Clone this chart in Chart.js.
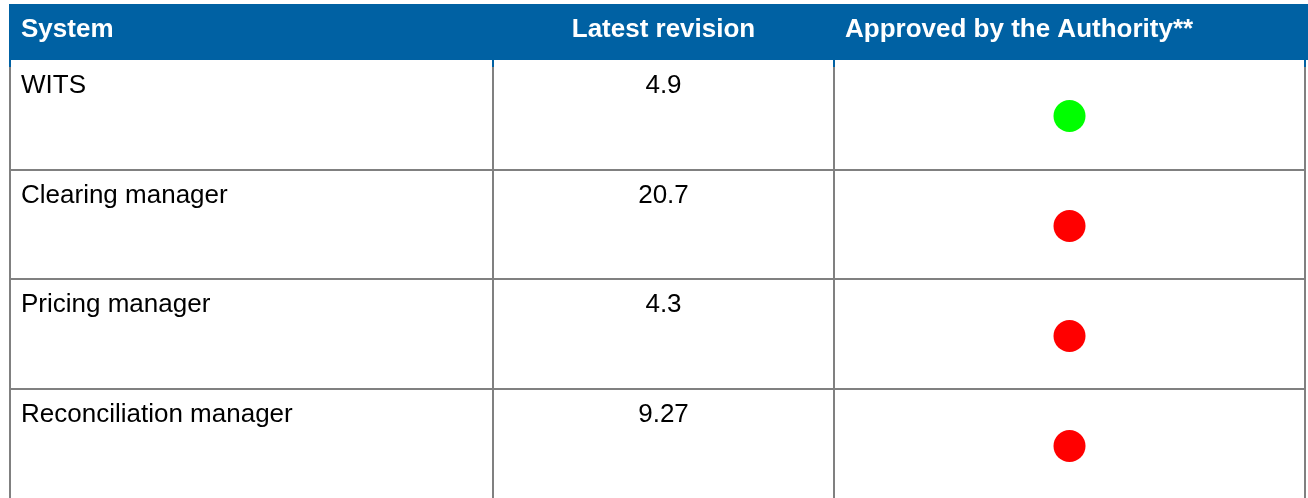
<!DOCTYPE html>
<html>
<head>
<meta charset="utf-8">
<title>System revisions</title>
<script src="https://cdn.jsdelivr.net/npm/chart.js@4/dist/chart.umd.min.js"></script>
<style>
  html, body { margin: 0; padding: 0; background: #ffffff; overflow: hidden; }
  #wrap { width: 1308px; height: 501px; }
</style>
</head>
<body>
<div id="wrap"><canvas id="table-chart" width="1308" height="501"></canvas></div>
<script>
// table content
const headers = ['System', 'Latest revision', 'Approved by the Authority**'];
const systems = ['WITS', 'Clearing manager', 'Pricing manager', 'Reconciliation manager'];
const revisions = ['4.9', '20.7', '4.3', '9.27'];
const approved = [true, false, false, false];

// layout of the grid (pixels)
const colEdges = [10, 493, 834, 1305];
const rowEdges = [60, 170, 279, 389, 501];
const headerTop = 4;
const blue = '#0061a3';
const lineGray = '#808080';
const fontFamily = '"Liberation Sans", Arial, sans-serif';

function colCenter(i) {
  return (colEdges[i] + colEdges[i + 1]) / 2;
}

// draws the header band, grid lines and cell text behind the dots
const tableGrid = {
  id: 'tableGrid',
  beforeDatasetsDraw(chart) {
    const ctx = chart.ctx;
    ctx.save();

    // header band
    ctx.fillStyle = blue;
    ctx.fillRect(colEdges[0] - 1, headerTop, chart.width - colEdges[0] + 1, rowEdges[0] - headerTop);

    ctx.fillStyle = '#ffffff';
    ctx.font = 'bold 26px ' + fontFamily;
    ctx.textBaseline = 'alphabetic';
    ctx.textAlign = 'left';
    ctx.fillText(headers[0], colEdges[0] + 11, 37);
    ctx.textAlign = 'center';
    ctx.fillText(headers[1], colCenter(1), 37);
    ctx.textAlign = 'left';
    ctx.fillText(headers[2], colEdges[2] + 11, 37);

    // grid lines
    ctx.lineWidth = 2;
    ctx.strokeStyle = lineGray;
    colEdges.forEach(x => {
      ctx.beginPath();
      ctx.moveTo(x, rowEdges[0]);
      ctx.lineTo(x, chart.height);
      ctx.stroke();
    });
    for (let r = 1; r < rowEdges.length - 1; r++) {
      ctx.beginPath();
      ctx.moveTo(colEdges[0] - 1, rowEdges[r]);
      ctx.lineTo(colEdges[colEdges.length - 1] + 1, rowEdges[r]);
      ctx.stroke();
    }
    // the header colour runs a little way down each vertical line
    ctx.strokeStyle = blue;
    colEdges.forEach(x => {
      ctx.beginPath();
      ctx.moveTo(x, rowEdges[0]);
      ctx.lineTo(x, rowEdges[0] + 7);
      ctx.stroke();
    });

    // body text
    ctx.fillStyle = '#000000';
    ctx.font = '26px ' + fontFamily;
    systems.forEach((name, i) => {
      const baseline = rowEdges[i] + 32.5;
      ctx.textAlign = 'left';
      ctx.fillText(name, colEdges[0] + 11, baseline);
      ctx.textAlign = 'center';
      ctx.fillText(revisions[i], colCenter(1), baseline);
    });

    ctx.restore();
  }
};

new Chart(document.getElementById('table-chart'), {
  type: 'scatter',
  data: {
    datasets: [{
      label: headers[2],
      data: systems.map(name => ({ x: colCenter(2), y: name })),
      pointRadius: 16,
      pointHoverRadius: 16,
      pointBorderWidth: 0,
      pointBackgroundColor: approved.map(ok => ok ? '#00ff00' : '#ff0000'),
      pointBorderColor: approved.map(ok => ok ? '#00ff00' : '#ff0000')
    }]
  },
  options: {
    responsive: false,
    animation: false,
    devicePixelRatio: 1,
    layout: {
      autoPadding: false,
      padding: { top: 61, left: 0, right: 0, bottom: 0 }
    },
    plugins: {
      legend: { display: false },
      tooltip: { enabled: false }
    },
    scales: {
      x: { type: 'linear', min: 0, max: 1308, display: false },
      y: { type: 'category', labels: systems, offset: true, display: false }
    }
  },
  plugins: [tableGrid]
});
</script>
</body>
</html>
